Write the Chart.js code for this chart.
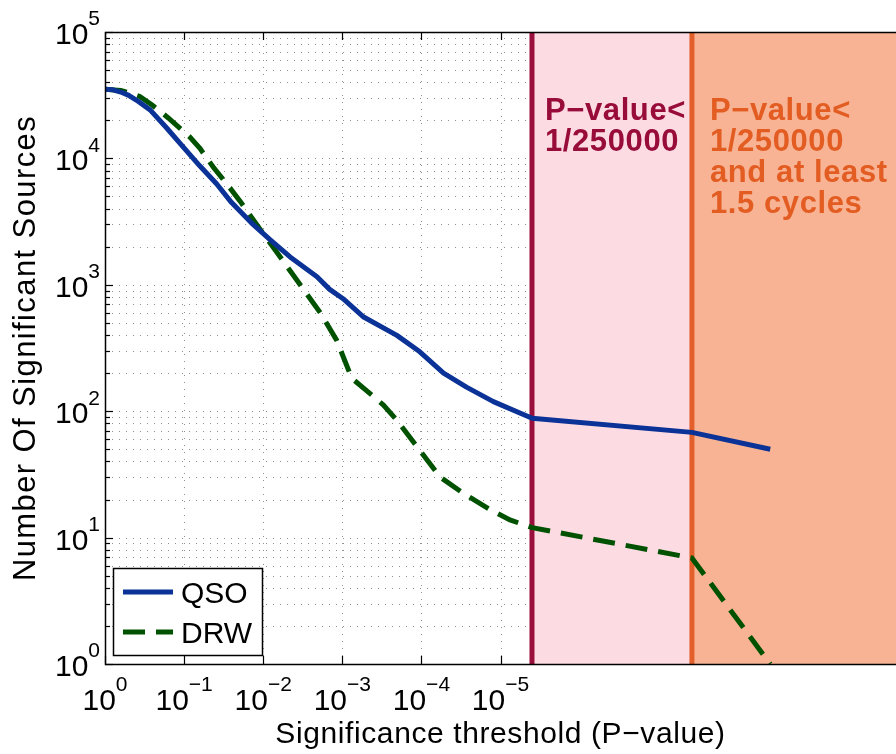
<!DOCTYPE html>
<html>
<head>
<meta charset="utf-8">
<script src="https://cdn.jsdelivr.net/npm/chart.js@4/dist/chart.umd.min.js"></script>
<style>
  html, body { margin: 0; padding: 0; background: #ffffff; }
  #wrap { width: 896px; height: 754px; }
</style>
</head>
<body>
<div id="wrap"><canvas id="c" width="896" height="754"></canvas></div>
<script>
// Significance threshold expressed in decades: d = -log10(P)
const qsoDecade = [0, 0.1, 0.2, 0.3, 0.4, 0.57, 0.78, 0.99, 1.2, 1.41, 1.6, 1.85, 2.1, 2.34, 2.68, 2.84, 3.01, 3.27, 3.69, 3.98, 4.28, 4.57, 4.91, 5.40, 7.42, 8.41];
const qsoCount  = [35200, 34900, 33500, 31500, 28800, 24200, 17400, 12300, 8700, 6300, 4470, 3090, 2240, 1660, 1160, 920, 776, 556, 398, 295, 200, 155, 119, 88, 68, 50];

const drwDecade = [0, 0.2, 0.3, 0.44, 0.6, 0.8, 1.07, 1.2, 1.37, 1.55, 1.71, 1.96, 2.17, 2.42, 2.72, 2.93, 3.12, 3.31, 3.52, 3.69, 3.98, 4.24, 4.53, 4.87, 5.12, 5.40, 7.42, 8.41];
const drwCount  = [35200, 34400, 33100, 30900, 26300, 20900, 14800, 12000, 8510, 6170, 4570, 2750, 1820, 1100, 603, 363, 182, 145, 112, 85, 49, 30, 22.4, 16.6, 13.8, 12, 6.9, 1];

const seriesNames = ['QSO', 'DRW'];

// axis ticks: x in decades of P, y in powers of ten
const xTickDecades = [0, 1, 2, 3, 4, 5];
const yTickPowers  = [0, 1, 2, 3, 4, 5];

// selection cuts (in decades of P)
const pValueCut = Math.log10(250000);
const cycleCut  = 7.42;
const cutLabels = [
  ['P\u2212value<', '1/250000'],
  ['P\u2212value<', '1/250000', 'and at least', '1.5 cycles']
];

const FONT = '"Liberation Sans", Arial, Helvetica, sans-serif';
const COL = {
  qso: '#0b3296',
  drw: '#005200',
  cut1: '#9b0f3c',
  cut2: '#e3602a',
  fill1: '#fddbe3',
  fill2: '#f7b394',
  text1: '#980c3a',
  text2: '#e35c22',
  grid: 'rgba(70,70,70,0.6)'
};

function toPoints(xs, ys) { return xs.map((x, i) => ({ x: x, y: ys[i] })); }

function drawPow(ctx, exp, x, y, align, big, small) {
  const base = '10';
  ctx.font = big + 'px ' + FONT;
  const wb = ctx.measureText(base).width;
  ctx.font = small + 'px ' + FONT;
  const we = ctx.measureText(exp).width;
  let left;
  if (align === 'right') left = x - wb - we;
  else left = x - (wb + we) / 2;
  ctx.textAlign = 'left';
  ctx.textBaseline = 'alphabetic';
  ctx.font = big + 'px ' + FONT;
  ctx.fillText(base, left, y);
  ctx.font = small + 'px ' + FONT;
  ctx.fillText(exp, left + wb, y - 0.62 * big);
}

function spaced(ctx, px) {
  if ('letterSpacing' in ctx) ctx.letterSpacing = px + 'px';
}

const decor = {
  id: 'decor',
  beforeDatasetsDraw(chart) {
    const ctx = chart.ctx, a = chart.chartArea;
    const xs = chart.scales.x, ys = chart.scales.y;
    ctx.save();
    // dotted grid
    ctx.strokeStyle = COL.grid;
    ctx.lineWidth = 1;
    ctx.setLineDash([1, 6]);
    for (let p = 0; p < yTickPowers.length - 1; p++) {
      for (let m = 1; m <= 9; m++) {
        const yy = Math.round(ys.getPixelForValue(m * Math.pow(10, yTickPowers[p]))) + 0.5;
        if (yy <= a.top + 1 || yy >= a.bottom - 1) continue;
        ctx.beginPath(); ctx.moveTo(a.left, yy); ctx.lineTo(a.right, yy); ctx.stroke();
      }
    }
    xTickDecades.forEach(d => {
      const xx = Math.round(xs.getPixelForValue(d)) + 0.5;
      if (xx <= a.left + 1) return;
      ctx.beginPath(); ctx.moveTo(xx, a.top); ctx.lineTo(xx, a.bottom); ctx.stroke();
    });
    ctx.setLineDash([]);
    // inward tick marks
    ctx.strokeStyle = '#000';
    ctx.lineWidth = 1.2;
    for (let p = 0; p < yTickPowers.length; p++) {
      for (let m = 1; m <= 9; m++) {
        if (p === yTickPowers.length - 1 && m > 1) break;
        const yy = Math.round(ys.getPixelForValue(m * Math.pow(10, yTickPowers[p]))) + 0.5;
        const len = m === 1 ? 8 : 5;
        ctx.beginPath(); ctx.moveTo(a.left, yy); ctx.lineTo(a.left + len, yy); ctx.stroke();
      }
    }
    xTickDecades.forEach(d => {
      const xx = Math.round(xs.getPixelForValue(d)) + 0.5;
      ctx.beginPath(); ctx.moveTo(xx, a.bottom); ctx.lineTo(xx, a.bottom - 8); ctx.stroke();
      ctx.beginPath(); ctx.moveTo(xx, a.top); ctx.lineTo(xx, a.top + 8); ctx.stroke();
    });
    // shaded selection regions
    const x1 = xs.getPixelForValue(pValueCut);
    const x2 = xs.getPixelForValue(cycleCut);
    ctx.fillStyle = COL.fill1;
    ctx.fillRect(x1, a.top, x2 - x1, a.bottom - a.top);
    ctx.fillStyle = COL.fill2;
    ctx.fillRect(x2, a.top, a.right - x2, a.bottom - a.top);
    ctx.lineWidth = 5;
    ctx.strokeStyle = COL.cut1;
    ctx.beginPath(); ctx.moveTo(x1, a.top); ctx.lineTo(x1, a.bottom); ctx.stroke();
    ctx.strokeStyle = COL.cut2;
    ctx.beginPath(); ctx.moveTo(x2, a.top); ctx.lineTo(x2, a.bottom); ctx.stroke();
    // region captions
    ctx.font = 'bold 31px ' + FONT;
    spaced(ctx, 0.6);
    ctx.textAlign = 'left';
    ctx.textBaseline = 'alphabetic';
    ctx.fillStyle = COL.text1;
    cutLabels[0].forEach((t, i) => ctx.fillText(t, x1 + 13, 120 + i * 31));
    ctx.fillStyle = COL.text2;
    cutLabels[1].forEach((t, i) => ctx.fillText(t, x2 + 18, 120 + i * 31));
    spaced(ctx, 0);
    ctx.restore();
  },
  afterDraw(chart) {
    const ctx = chart.ctx, a = chart.chartArea;
    const xs = chart.scales.x, ys = chart.scales.y;
    ctx.save();
    // axes frame
    ctx.strokeStyle = '#000';
    ctx.lineWidth = 1.5;
    ctx.beginPath();
    ctx.moveTo(a.right + 2, a.top + 0.5);
    ctx.lineTo(a.left + 0.5, a.top + 0.5);
    ctx.lineTo(a.left + 0.5, a.bottom + 0.5);
    ctx.lineTo(a.right + 2, a.bottom + 0.5);
    ctx.stroke();
    // tick labels
    ctx.fillStyle = '#000';
    yTickPowers.forEach(p => {
      const yy = ys.getPixelForValue(Math.pow(10, p));
      drawPow(ctx, String(p), a.left - 5, yy + 12, 'right', 30, 21);
    });
    xTickDecades.forEach(d => {
      const xx = xs.getPixelForValue(d);
      drawPow(ctx, d === 0 ? '0' : '\u2212' + d, xx, a.bottom + 46, 'center', 30, 21);
    });
    // axis titles
    ctx.textAlign = 'center';
    ctx.textBaseline = 'alphabetic';
    ctx.font = '30px ' + FONT;
    spaced(ctx, 0.6);
    ctx.fillText('Significance threshold (P\u2212value)', (a.left + a.right) / 2, 743);
    ctx.save();
    ctx.translate(35, (a.top + a.bottom) / 2);
    ctx.rotate(-Math.PI / 2);
    ctx.font = '31px ' + FONT;
    spaced(ctx, 1.4);
    ctx.fillText('Number Of Significant Sources', 0, 0);
    ctx.restore();
    spaced(ctx, 0);
    // legend
    const lx = 113, ly = 568, lw = 149, lh = 87;
    ctx.fillStyle = '#fff';
    ctx.fillRect(lx, ly, lw, lh);
    ctx.strokeStyle = '#000';
    ctx.lineWidth = 1.5;
    ctx.strokeRect(lx + 0.5, ly + 0.5, lw, lh);
    chart.data.datasets.forEach((ds, i) => {
      const yy = 592 + i * 40;
      ctx.strokeStyle = ds.borderColor;
      ctx.lineWidth = 5;
      ctx.setLineDash(ds.borderDash || []);
      ctx.beginPath(); ctx.moveTo(123, yy); ctx.lineTo(173, yy); ctx.stroke();
      ctx.setLineDash([]);
      ctx.fillStyle = '#000';
      ctx.font = '30px ' + FONT;
      ctx.textAlign = 'left';
      ctx.fillText(ds.label, 181, yy + 11);
    });
    ctx.restore();
  }
};

new Chart(document.getElementById('c'), {
  type: 'line',
  data: {
    datasets: [
      {
        label: seriesNames[0],
        data: toPoints(qsoDecade, qsoCount),
        borderColor: COL.qso,
        borderWidth: 5,
        pointRadius: 0,
        tension: 0,
        borderJoinStyle: 'round',
        fill: false
      },
      {
        label: seriesNames[1],
        data: toPoints(drwDecade, drwCount),
        borderColor: COL.drw,
        borderWidth: 5,
        borderDash: [22, 11],
        pointRadius: 0,
        tension: 0,
        fill: false
      }
    ]
  },
  options: {
    responsive: false,
    animation: false,
    devicePixelRatio: 1,
    layout: { padding: { top: 32, left: 0, right: 0, bottom: 0 } },
    plugins: { legend: { display: false }, tooltip: { enabled: false } },
    scales: {
      x: {
        type: 'linear', min: 0, max: 10,
        grid: { display: false }, border: { display: false },
        ticks: { display: false },
        afterFit(s) { s.height = 90; }
      },
      y: {
        type: 'logarithmic', min: 1, max: 100000,
        grid: { display: false }, border: { display: false },
        ticks: { display: false },
        afterFit(s) { s.width = 105; }
      }
    }
  },
  plugins: [decor]
});
</script>
</body>
</html>
